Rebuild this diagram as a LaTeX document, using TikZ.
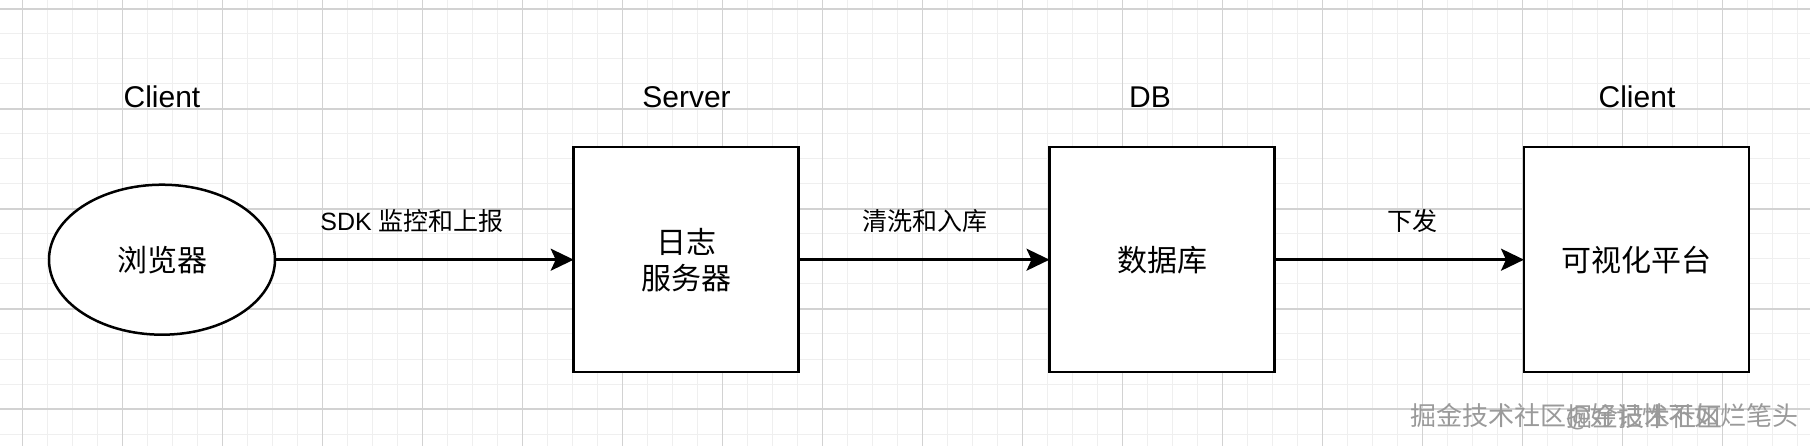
\documentclass[tikz,border=0pt]{standalone}
\usepackage{fontspec}
\setmainfont{Liberation Sans}
\newfontfamily\cjk{Noto Sans CJK SC}
\usetikzlibrary{shapes.geometric,arrows.meta}
\definecolor{gridminor}{HTML}{EFEFEF}
\definecolor{gridmajor}{HTML}{D2D2D2}
\definecolor{wmfill}{HTML}{9A9A9A}
\tikzset{
  boxnode/.style={draw=black, line width=2.5pt, fill=white, minimum width=225pt, minimum height=225pt, inner sep=0pt, outer sep=0pt, align=center, font=\cjk\fontsize{30}{36}\selectfont},
  ovalnode/.style={ellipse, draw=black, line width=2.5pt, fill=white, minimum width=226pt, minimum height=150pt, inner sep=0pt, outer sep=0pt, font=\cjk\fontsize{30}{36}\selectfont},
  titletext/.style={anchor=base, inner sep=0pt, font=\fontsize{30}{36}\selectfont},
  edgelabel/.style={anchor=center, inner sep=0pt, font=\fontsize{25}{30}\selectfont},
  flow/.style={line width=2.5pt, -{Stealth[length=23pt, width=22pt, inset=5pt]}},
  wmtext/.style={anchor=west, inner sep=0pt, text=wmfill, font=\cjk\fontsize{26}{30}\selectfont}
}
\begin{document}
\begin{tikzpicture}[x=1pt, y=-1pt]
\useasboundingbox (0,0) rectangle (1810,446);
\fill[white] (0,0) rectangle (1810,446);
% minor grid
\foreach \i in {0,...,73} {
  \draw[gridminor, line width=1pt] ({-2.3+25*\i},0) -- ({-2.3+25*\i},446);
}
\foreach \j in {0,...,17} {
  \draw[gridminor, line width=1pt] (0,{9+25*\j}) -- (1810,{9+25*\j});
}
% major grid
\foreach \i in {0,...,17} {
  \draw[gridmajor, line width=1.2pt] ({22.7+100*\i},0) -- ({22.7+100*\i},446);
}
\foreach \j in {0,...,4} {
  \draw[gridmajor, line width=1.2pt] (0,{9+100*\j}) -- (1810,{9+100*\j});
}

% titles
\node[titletext] (t1) at (162,108) {Client};
\node[titletext] (t2) at (686.5,108) {Server};
\node[titletext] (t3) at (1150,108) {DB};
\node[titletext] (t4) at (1637,108) {Client};

% nodes
\node[ovalnode] (browser) at (162,259.7) {浏览器};
\node[boxnode] (server) at (686.2,259.7) {日志\\服务器};
\node[boxnode] (db) at (1162,259.7) {数据库};
\node[boxnode] (viz) at (1636.5,259.7) {可视化平台};

% connectors
\draw[flow] (browser) -- (server);
\draw[flow] (server) -- (db);
\draw[flow] (db) -- (viz);

% edge labels
\node[edgelabel] (l1) at (412,221.5) {SDK {\cjk 监控和上报}};
\node[edgelabel] (l2) at (924.7,221) {\cjk 清洗和入库};
\node[edgelabel] (l3) at (1412,221) {\cjk 下发};

% watermark (two overlaid marks, as in the reference)
\node[wmtext] (wm1) at (1410,416.5) {掘金技术社区@好记性不如烂笔头};
\node[wmtext] (wm2) at (1566,416.5) {掘金技术社区};
\end{tikzpicture}
\end{document}
